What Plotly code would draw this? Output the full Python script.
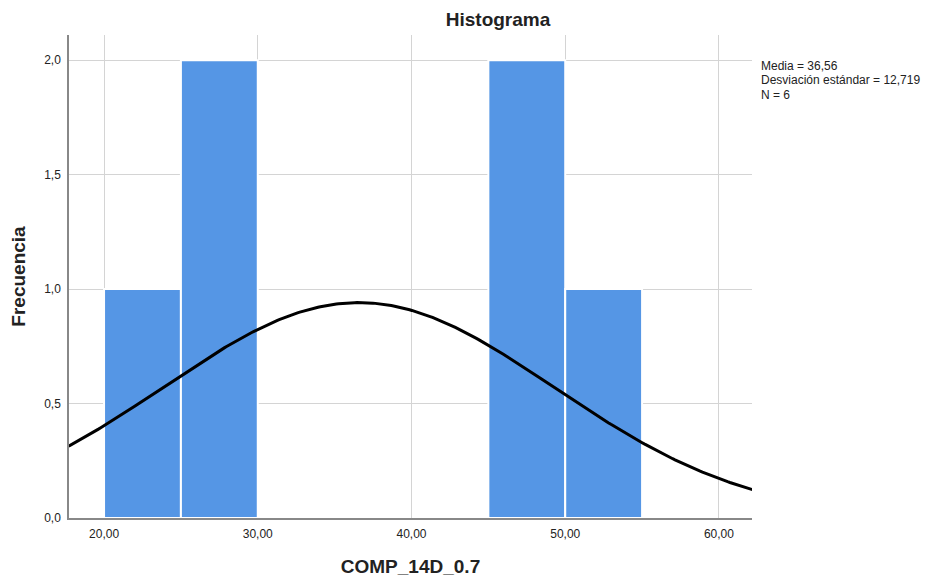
import numpy as np
import plotly.graph_objects as go

# Histogram bins (width 5) and frequencies
bin_starts = [20, 25, 45, 50]
counts = [1, 2, 2, 1]
bin_width = 5

# Summary statistics shown beside the plot
mean = 36.56
std_dev = 12.719
n = 6
stat_lines = ["Media = 36,56", "Desviación estándar = 12,719", "N = 6"]

centers = [b + bin_width / 2 for b in bin_starts]

# Normal curve scaled to frequency (N * bin width)
xs = np.linspace(17.7, 62.2, 300)
ys = n * bin_width / (std_dev * np.sqrt(2 * np.pi)) * np.exp(-0.5 * ((xs - mean) / std_dev) ** 2)

font_family = "Liberation Sans, Arial, sans-serif"

fig = go.Figure()
fig.add_trace(go.Bar(
    x=centers, y=counts, width=bin_width,
    marker=dict(color="#5596E5", line=dict(color="white", width=2)),
    hoverinfo="skip", showlegend=False,
))
fig.add_trace(go.Scatter(
    x=xs, y=ys, mode="lines",
    line=dict(color="black", width=3),
    hoverinfo="skip", showlegend=False,
))

# Plot area: top 35px, bottom at 518px (height 483px)
plot_top, plot_h = 35, 483
line_centers_px = [66, 80.5, 95]
annotations = [
    dict(text=t, xref="paper", yref="paper", x=1.01,
         y=(plot_top + plot_h - py) / plot_h,
         xanchor="left", yanchor="middle", align="left", showarrow=False,
         font=dict(size=12, color="#222222", family=font_family))
    for t, py in zip(stat_lines, line_centers_px)
]

fig.update_layout(
    width=937, height=581,
    margin=dict(l=69, r=185, t=35, b=63),
    paper_bgcolor="white", plot_bgcolor="white",
    separators=",.",
    font=dict(family=font_family, size=12, color="#222222"),
    title=dict(text="<b>Histograma</b>", x=498 / 937, xanchor="center",
               xref="container", y=1 - 19 / 581, yanchor="middle",
               yref="container",
               font=dict(size=19, color="#222222", family=font_family)),
    xaxis=dict(
        range=[17.72, 62.15], tickvals=[20, 30, 40, 50, 60], tickformat=".2f",
        showgrid=True, gridcolor="#d4d4d4", gridwidth=1,
        showline=True, linecolor="#888888", linewidth=1.5,
        ticks="", zeroline=False, ticklabelstandoff=4, automargin=False,
        title=dict(text="<b>COMP_14D_0.7</b>", standoff=20,
                   font=dict(size=19, color="#222222")),
    ),
    yaxis=dict(
        range=[0, 2.11], tickvals=[0, 0.5, 1.0, 1.5, 2.0], tickformat=".1f",
        showgrid=True, gridcolor="#d4d4d4", gridwidth=1,
        showline=True, linecolor="#888888", linewidth=1.5,
        ticks="", zeroline=False, ticklabelstandoff=4, automargin=False,
        title=dict(text="<b>Frecuencia</b>", standoff=14,
                   font=dict(size=19, color="#222222")),
    ),
    annotations=annotations,
)

fig.write_html("out.html")
